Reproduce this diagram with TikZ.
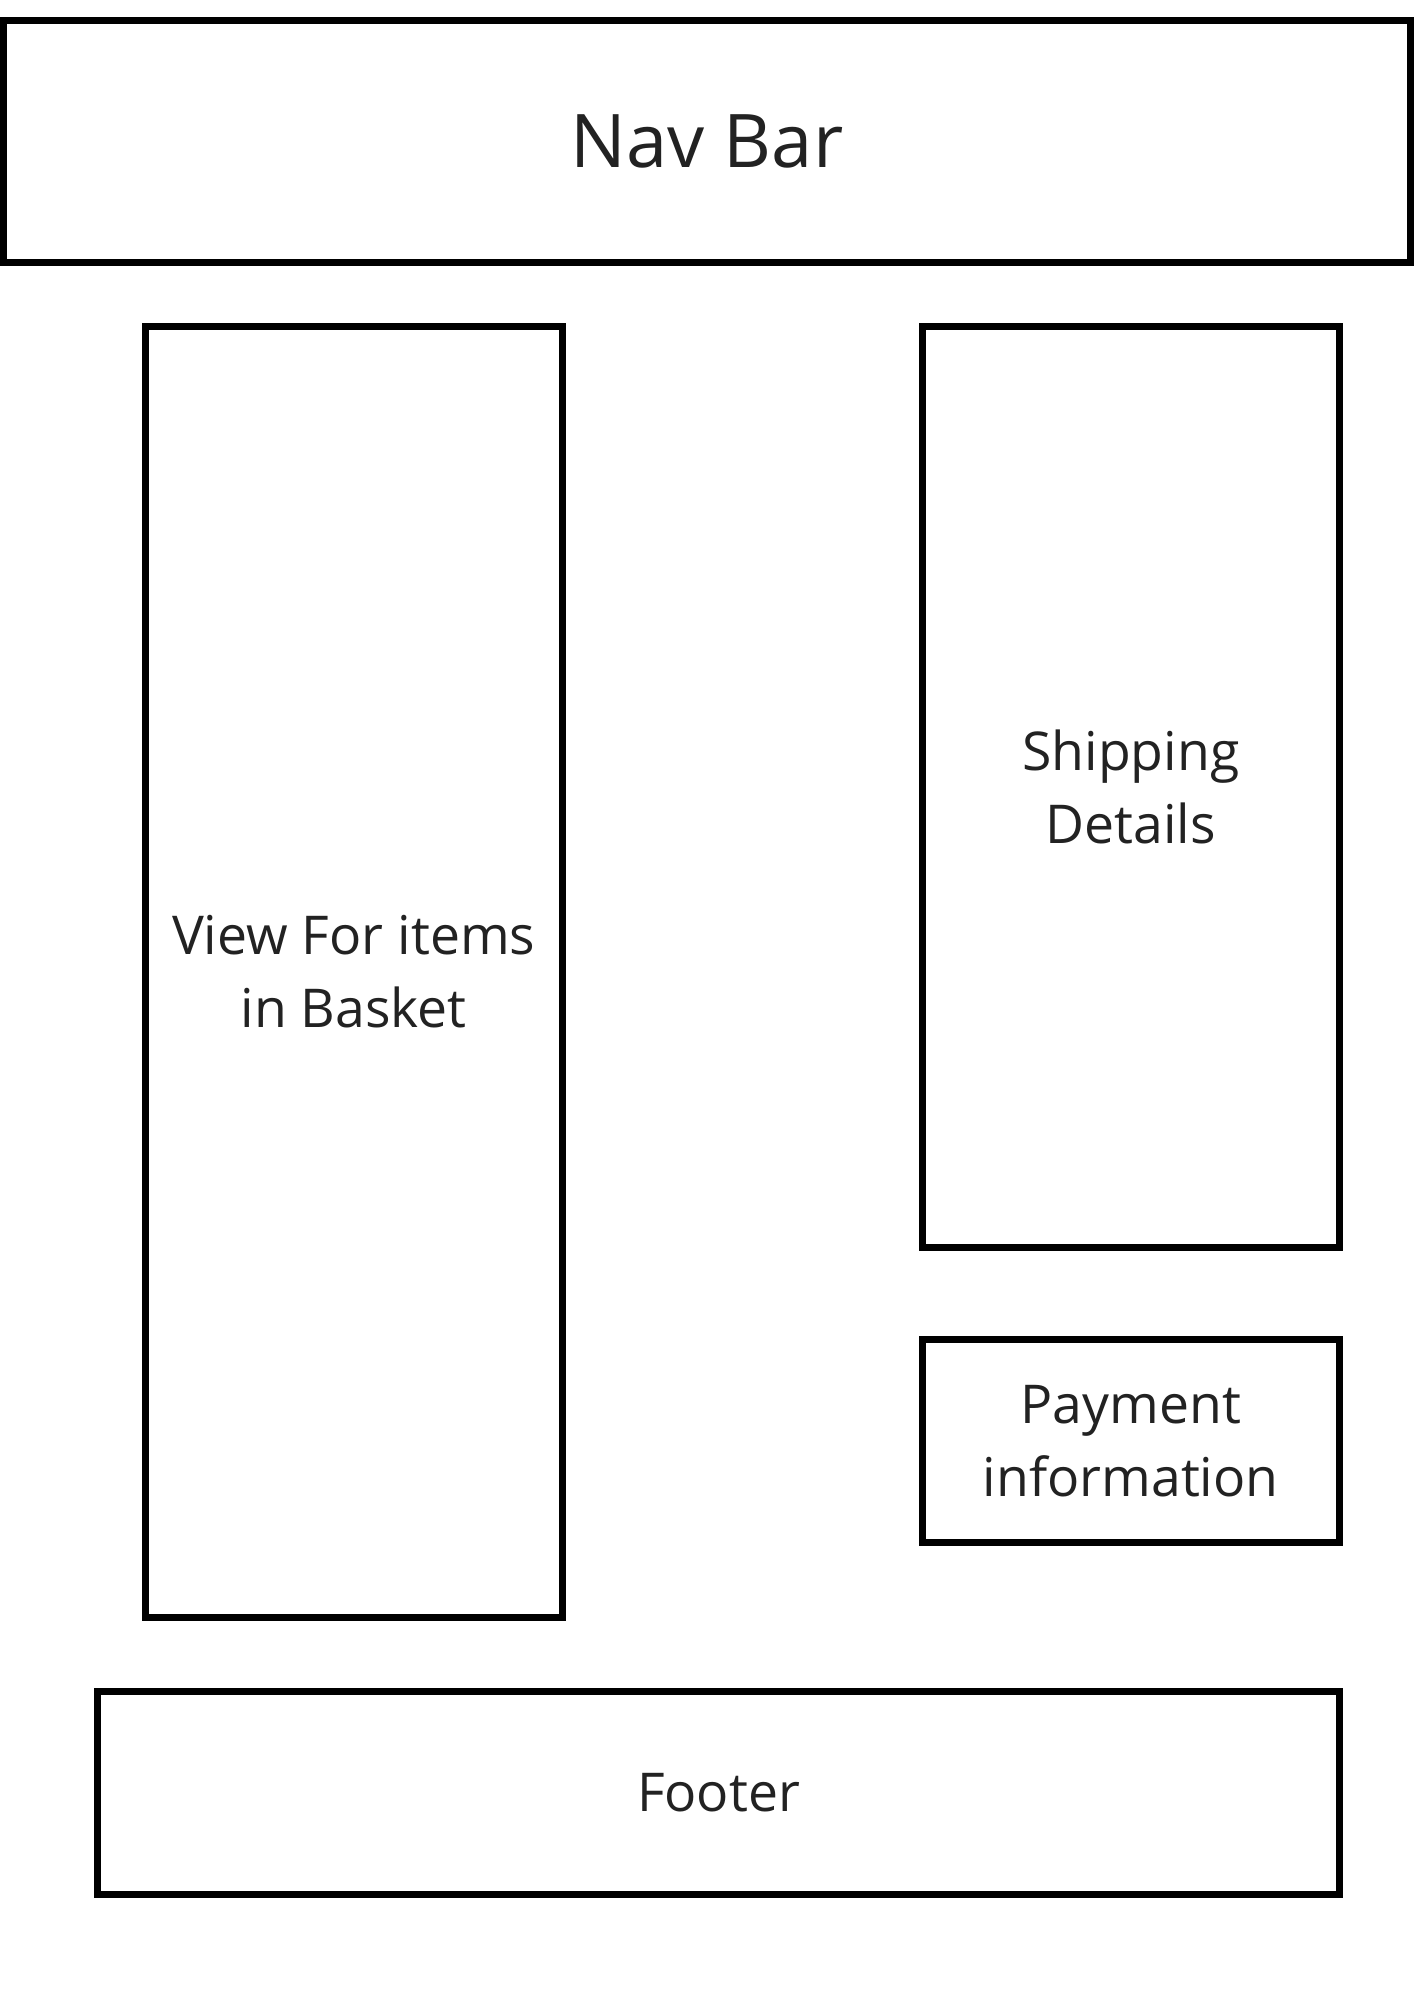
\documentclass[tikz,border=0pt]{standalone}
\usepackage{fontspec}
\setmainfont{Open Sans}
\usepackage{tikz}
\usetikzlibrary{positioning}
\definecolor{wfink}{HTML}{222222}

\begin{document}
\begin{tikzpicture}[x=1pt, y=-1pt,
  panel/.style={draw=black, line width=7pt, text=wfink, align=center,
    inner sep=0pt, font=\fontsize{53.5}{73}\selectfont},
  navpanel/.style={panel, font=\fontsize{74}{88}\selectfont}]
\useasboundingbox[fill=white] (0,0) rectangle (1414,2000);
\node[navpanel, minimum width=1407pt, minimum height=242.5pt] (nav) at (707,141.25) {Nav Bar};
\node[panel, minimum width=416.5pt, minimum height=1291.5pt] (basket) at (353.75,971.75)
  {View For items\\in Basket};
\node[panel, minimum width=417.5pt, minimum height=921.5pt] (ship) at (1130.75,786.75)
  {Shipping\\Details};
\node[panel, minimum width=417.5pt, minimum height=203pt, below=85pt of ship] (pay)
  {Payment\\information};
\node[panel, minimum width=1242pt, minimum height=203pt] (footer) at (718.5,1793) {Footer};
\end{tikzpicture}
\end{document}
